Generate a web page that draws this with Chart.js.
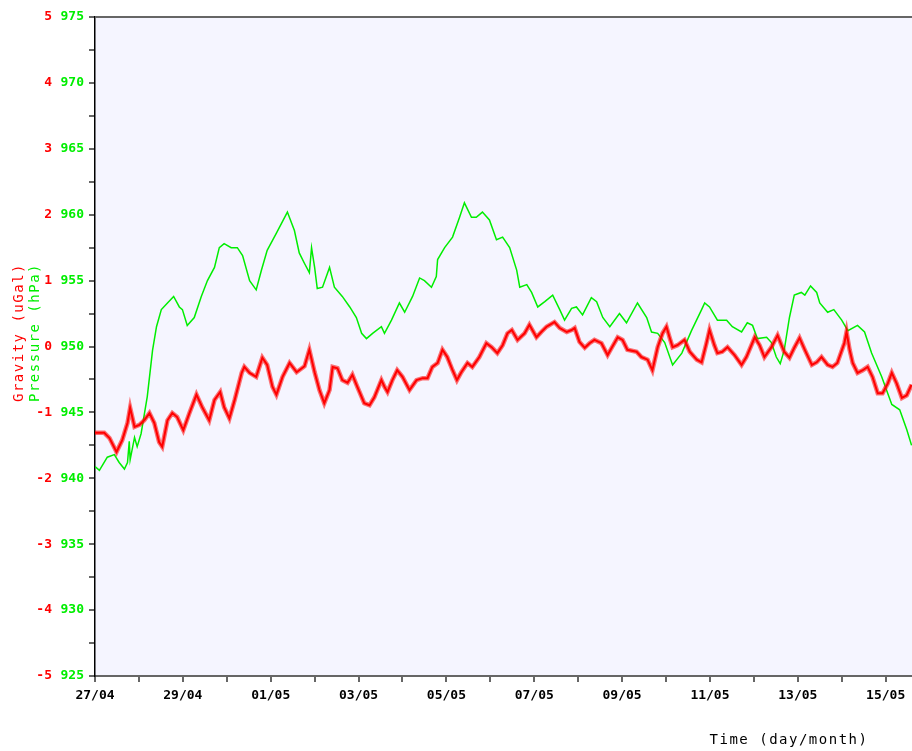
<!DOCTYPE html>
<html>
<head>
<meta charset="utf-8">
<script src="https://cdn.jsdelivr.net/npm/chart.js@4"></script>
<style>
  body { margin: 0; background: #fff; }
  #wrap { width: 912px; height: 751px; }
</style>
</head>
<body>
<div id="wrap"><canvas id="chart" width="912" height="751"></canvas></div>
<script>
// Date labels on the time axis (every 2 days from 27/04)
const dateLabels = ['27/04', '29/04', '01/05', '03/05', '05/05', '07/05', '09/05', '11/05', '13/05', '15/05'];

// Pressure (hPa), time in days since 27/04 00:00
const pressureDays = [0, 0.10, 0.28, 0.44, 0.55, 0.67, 0.74, 0.78, 0.80, 0.90, 0.96, 1.05, 1.19, 1.31, 1.40, 1.51, 1.65, 1.79, 1.92, 1.99,
    2.10, 2.26, 2.42, 2.56, 2.72, 2.83, 2.94, 3.10, 3.24, 3.36, 3.52, 3.67, 3.79, 3.92, 4.13, 4.38, 4.54, 4.65, 4.77, 4.88,
    4.93, 5.00, 5.06, 5.18, 5.34, 5.45, 5.63, 5.80, 5.95, 6.07, 6.18, 6.32, 6.52, 6.59, 6.75, 6.93, 7.05, 7.23, 7.39, 7.50,
    7.66, 7.77, 7.80, 7.96, 8.14, 8.30, 8.41, 8.57, 8.68, 8.82, 8.98, 9.14, 9.28, 9.44, 9.60, 9.67, 9.83, 9.94, 10.08, 10.24,
    10.42, 10.58, 10.69, 10.85, 10.96, 11.10, 11.30, 11.42, 11.56, 11.72, 11.94, 12.10, 12.35, 12.56, 12.67, 12.81, 12.97, 13.15, 13.36, 13.58,
    13.81, 13.88, 13.99, 14.17, 14.38, 14.51, 14.72, 14.85, 14.97, 15.08, 15.29, 15.40, 15.51, 15.60, 15.69, 15.81, 15.92, 16.08, 16.16, 16.29,
    16.43, 16.50, 16.68, 16.82, 17.00, 17.14, 17.36, 17.52, 17.68, 17.91, 18.14, 18.32, 18.48, 18.59];
const pressureHpa = [940.9, 940.6, 941.6, 941.8, 941.2, 940.7, 941.2, 942.8, 941.4, 943.1, 942.4, 943.4, 946.2, 949.7, 951.5, 952.8, 953.3, 953.8, 953.0, 952.8,
    951.6, 952.2, 953.8, 955.0, 956.0, 957.5, 957.8, 957.5, 957.5, 956.9, 955.0, 954.3, 955.8, 957.3, 958.6, 960.2, 958.8, 957.1, 956.3, 955.6,
    957.5, 956.0, 954.4, 954.5, 956.0, 954.5, 953.8, 953.0, 952.2, 951.0, 950.6, 951.0, 951.5, 951.0, 952.0, 953.3, 952.6, 953.8, 955.2, 955.0,
    954.5, 955.3, 956.6, 957.5, 958.3, 959.8, 960.9, 959.8, 959.8, 960.2, 959.6, 958.1, 958.3, 957.5, 955.8, 954.5, 954.7, 954.1, 953.0, 953.4,
    953.9, 952.8, 952.0, 952.9, 953.0, 952.4, 953.7, 953.4, 952.2, 951.5, 952.5, 951.8, 953.3, 952.2, 951.1, 951.0, 950.3, 948.6, 949.5, 951.2,
    952.8, 953.3, 953.0, 952.0, 952.0, 951.5, 951.1, 951.8, 951.6, 950.6, 950.7, 950.3, 949.2, 948.7, 949.7, 952.2, 953.9, 954.1, 953.9, 954.6,
    954.1, 953.3, 952.6, 952.8, 952.0, 951.2, 951.6, 951.1, 949.5, 947.7, 945.6, 945.2, 943.7, 942.5];

// Gravity residual (uGal)
const gravityDays = [0, 0.21, 0.33, 0.49, 0.62, 0.74, 0.80, 0.90, 1.01, 1.12, 1.24, 1.35, 1.46, 1.53, 1.65, 1.76, 1.87, 2.01, 2.15, 2.31,
    2.44, 2.60, 2.72, 2.85, 2.94, 3.06, 3.18, 3.34, 3.40, 3.52, 3.67, 3.81, 3.92, 4.04, 4.13, 4.27, 4.43, 4.59, 4.77, 4.88,
    5.00, 5.11, 5.22, 5.34, 5.41, 5.52, 5.63, 5.75, 5.86, 5.97, 6.13, 6.25, 6.36, 6.52, 6.59, 6.66, 6.77, 6.88, 7.00, 7.16,
    7.32, 7.46, 7.57, 7.68, 7.80, 7.91, 8.02, 8.14, 8.24, 8.34, 8.48, 8.59, 8.75, 8.91, 9.03, 9.16, 9.28, 9.39, 9.49, 9.62,
    9.78, 9.89, 10.05, 10.16, 10.28, 10.46, 10.58, 10.74, 10.85, 10.92, 11.03, 11.15, 11.26, 11.37, 11.53, 11.67, 11.78, 11.90, 12.01, 12.12,
    12.33, 12.44, 12.58, 12.69, 12.81, 12.92, 13.01, 13.08, 13.15, 13.26, 13.42, 13.54, 13.70, 13.81, 13.92, 13.99, 14.10, 14.17, 14.28, 14.40,
    14.56, 14.72, 14.83, 15.02, 15.13, 15.24, 15.40, 15.54, 15.69, 15.81, 15.92, 16.04, 16.16, 16.32, 16.43, 16.54, 16.68, 16.79, 16.90, 17.06,
    17.11, 17.18, 17.25, 17.36, 17.48, 17.59, 17.70, 17.82, 17.93, 18.05, 18.14, 18.25, 18.37, 18.48, 18.59];
const gravityUgal = [-1.31, -1.31, -1.39, -1.60, -1.42, -1.16, -0.93, -1.22, -1.19, -1.12, -1.01, -1.16, -1.45, -1.52, -1.12, -1.01, -1.07, -1.27, -1.01, -0.73,
    -0.92, -1.12, -0.81, -0.69, -0.92, -1.09, -0.81, -0.40, -0.31, -0.40, -0.46, -0.17, -0.28, -0.61, -0.73, -0.46, -0.25, -0.39, -0.30, -0.05,
    -0.39, -0.66, -0.86, -0.66, -0.31, -0.33, -0.51, -0.55, -0.43, -0.61, -0.86, -0.89, -0.77, -0.51, -0.61, -0.69, -0.51, -0.36, -0.46, -0.66,
    -0.51, -0.48, -0.48, -0.31, -0.25, -0.05, -0.16, -0.36, -0.51, -0.39, -0.25, -0.31, -0.16, 0.05, -0.01, -0.10, 0.02, 0.20, 0.25, 0.10,
    0.20, 0.33, 0.14, 0.22, 0.30, 0.37, 0.28, 0.22, 0.25, 0.28, 0.07, -0.02, 0.05, 0.10, 0.05, -0.13, 0.00, 0.14, 0.10, -0.05,
    -0.08, -0.16, -0.20, -0.36, -0.01, 0.20, 0.30, 0.14, -0.01, 0.02, 0.10, -0.08, -0.20, -0.24, 0.05, 0.25, 0.02, -0.10, -0.08, -0.01,
    -0.13, -0.28, -0.16, 0.14, 0.02, -0.16, -0.01, 0.17, -0.08, -0.17, -0.02, 0.13, -0.05, -0.28, -0.24, -0.16, -0.28, -0.31, -0.25, 0.05,
    0.22, -0.05, -0.25, -0.40, -0.36, -0.31, -0.46, -0.71, -0.71, -0.56, -0.40, -0.56, -0.78, -0.74, -0.58];

const toPoints = (xs, ys) => xs.map((x, i) => ({ x: x, y: ys[i] }));

const monoFont = '"DejaVu Sans Mono", "Liberation Mono", monospace';

// Plot background, top frame line and the axis titles
const framePlugin = {
    id: 'frame',
    beforeDraw(chart) {
        const { ctx, chartArea: a } = chart;
        ctx.save();
        ctx.fillStyle = '#f5f5ff';
        ctx.fillRect(a.left, a.top, a.right - a.left, a.bottom - a.top);
        ctx.restore();
    },
    beforeDatasetsDraw(chart) {
        const { ctx, chartArea: a } = chart;
        ctx.save();
        ctx.strokeStyle = '#666';
        ctx.lineWidth = 2;
        ctx.beginPath();
        ctx.moveTo(a.left, a.top);
        ctx.lineTo(a.right, a.top);
        ctx.stroke();
        ctx.restore();
    },
    afterDraw(chart) {
        const { ctx, chartArea: a } = chart;
        const midY = (a.top + a.bottom) / 2;
        ctx.save();
        ctx.font = '14px ' + monoFont;
        ctx.letterSpacing = '1.5px';
        ctx.textAlign = 'center';
        ctx.textBaseline = 'middle';
        [['Gravity (uGal)', '#ff0000', 19], ['Pressure (hPa)', '#00ee00', 35]].forEach(([txt, col, x]) => {
            ctx.save();
            ctx.translate(x, midY - 14);
            ctx.rotate(-Math.PI / 2);
            ctx.fillStyle = col;
            ctx.fillText(txt, 0, 0);
            ctx.restore();
        });
        ctx.fillStyle = '#000';
        ctx.fillText('Time (day/month)', 789, 740);
        ctx.restore();
    }
};

new Chart(document.getElementById('chart'), {
    type: 'line',
    data: {
        datasets: [
            {
                label: 'Gravity',
                data: toPoints(gravityDays, gravityUgal),
                yAxisID: 'y',
                borderColor: '#ff0000',
                borderWidth: 2,
                order: 1
            },
            {
                label: 'Gravity band',
                data: toPoints(gravityDays, gravityUgal),
                yAxisID: 'y',
                borderColor: 'rgba(255, 0, 0, 0.55)',
                borderWidth: 4.5,
                order: 2
            },
            {
                label: 'Pressure',
                data: toPoints(pressureDays, pressureHpa),
                yAxisID: 'p',
                borderColor: '#00ee00',
                borderWidth: 1.5,
                order: 3
            }
        ]
    },
    options: {
        responsive: false,
        animation: false,
        layout: { padding: { top: 17, right: 0, bottom: 0, left: 0 } },
        elements: { point: { radius: 0 }, line: { tension: 0 } },
        plugins: { legend: { display: false }, tooltip: { enabled: false } },
        scales: {
            x: {
                type: 'linear',
                min: 0,
                max: 18.6,
                afterFit: s => { s.height = 75; },
                ticks: {
                    stepSize: 1,
                    includeBounds: false,
                    autoSkip: false,
                    maxRotation: 0,
                    padding: 6,
                    color: '#000',
                    font: { family: monoFont, size: 13, weight: 'bold' },
                    callback: v => (Number.isInteger(v) && v % 2 === 0) ? dateLabels[v / 2] : ''
                },
                grid: { drawOnChartArea: false, tickLength: 6, color: '#666', lineWidth: 2 },
                border: { color: '#666', width: 2 }
            },
            y: {
                position: 'left',
                weight: 2,
                min: -5,
                max: 5,
                afterFit: s => { s.width = 52; },
                ticks: {
                    stepSize: 1,
                    padding: 0,
                    color: '#ff0000',
                    font: { family: monoFont, size: 13, weight: 'bold' }
                },
                grid: { display: false, drawTicks: false },
                border: { display: false }
            },
            p: {
                position: 'left',
                weight: 1,
                min: 925,
                max: 975,
                afterFit: s => { s.width = 43; },
                ticks: {
                    stepSize: 2.5,
                    autoSkip: false,
                    padding: 5,
                    color: '#00ee00',
                    font: { family: monoFont, size: 13, weight: 'bold' },
                    callback: v => (v % 5 === 0) ? String(v) : ''
                },
                grid: { drawOnChartArea: false, tickLength: 6, color: '#666', lineWidth: 2 },
                border: { color: '#000', width: 1.5 }
            }
        }
    },
    plugins: [framePlugin]
});
</script>
</body>
</html>
